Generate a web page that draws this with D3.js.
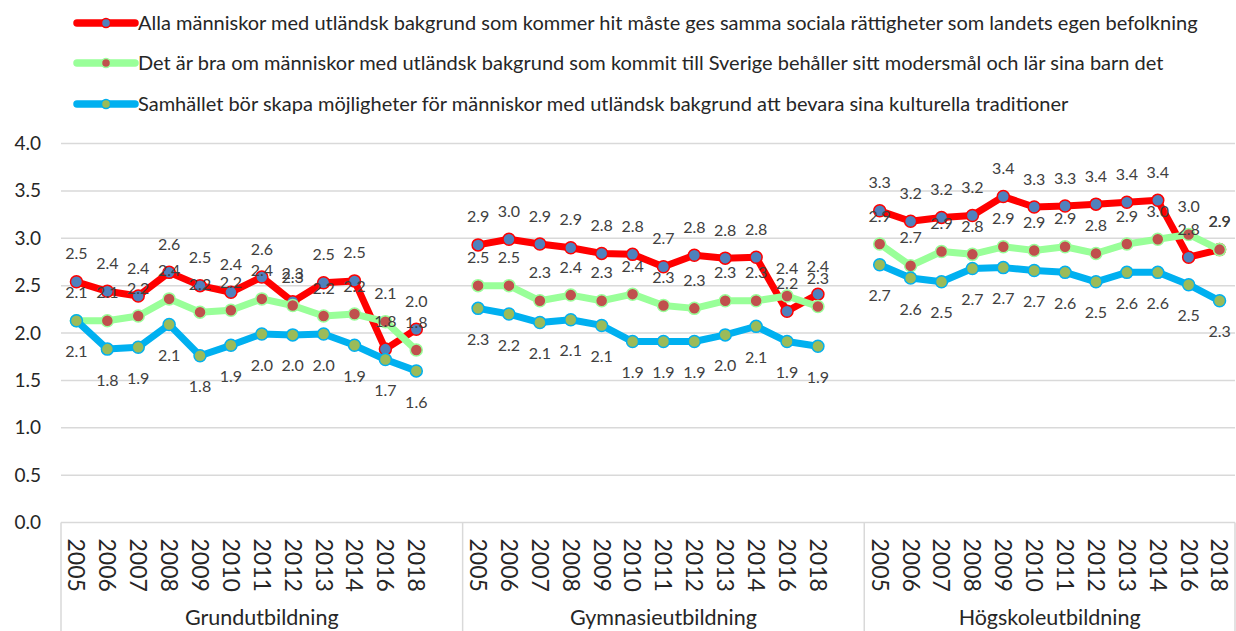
<!doctype html>
<html>
<head>
<meta charset="utf-8">
<script src="https://cdn.jsdelivr.net/npm/d3@7"></script>
<style>
  body { margin: 0; background: #fff; }
  svg text { font-family: Lato, "Open Sans", sans-serif; }
</style>
</head>
<body>
<svg id="chart" width="1236" height="631"></svg>
<script>
  // categories
  var groups = ['Grundutbildning', 'Gymnasieutbildning', 'Högskoleutbildning'];
  var years = ['2005', '2006', '2007', '2008', '2009', '2010', '2011', '2012', '2013', '2014', '2016', '2018'];
  var yTicks = [0, 0.5, 1, 1.5, 2, 2.5, 3, 3.5, 4];

  var seriesNames = [
    'Alla människor med utländsk bakgrund som kommer hit måste ges samma sociala rättigheter som landets egen befolkning',
    'Det är bra om människor med utländsk bakgrund som kommit till Sverige behåller sitt modersmål och lär sina barn det',
    'Samhället bör skapa möjligheter för människor med utländsk bakgrund att bevara sina kulturella traditioner'
  ];

  // values, one per group+year (Grund, Gymnasie, Högskole)
  var rightsValues = [
    2.54, 2.44, 2.39, 2.64, 2.50, 2.43, 2.59, 2.33, 2.53, 2.55, 1.83, 2.04,
    2.93, 2.99, 2.94, 2.90, 2.84, 2.83, 2.70, 2.82, 2.79, 2.80, 2.23, 2.41,
    3.29, 3.18, 3.22, 3.24, 3.44, 3.33, 3.34, 3.36, 3.38, 3.40, 2.80, 2.88
  ];
  var languageValues = [
    2.13, 2.13, 2.18, 2.36, 2.22, 2.24, 2.36, 2.29, 2.18, 2.20, 2.12, 1.82,
    2.50, 2.50, 2.34, 2.40, 2.34, 2.41, 2.29, 2.26, 2.34, 2.34, 2.39, 2.28,
    2.94, 2.71, 2.86, 2.83, 2.91, 2.87, 2.91, 2.84, 2.94, 2.99, 3.04, 2.88
  ];
  var traditionValues = [
    2.13, 1.83, 1.85, 2.09, 1.76, 1.87, 1.99, 1.98, 1.99, 1.87, 1.72, 1.60,
    2.26, 2.20, 2.11, 2.14, 2.08, 1.91, 1.91, 1.91, 1.98, 2.07, 1.91, 1.86,
    2.72, 2.58, 2.54, 2.68, 2.69, 2.66, 2.64, 2.54, 2.64, 2.64, 2.51, 2.34
  ];

  var styles = [
    { line: '#ff0000', fill: '#4f81bd', labelDy: -28 },
    { line: '#99ff99', fill: '#c0504d', labelDy: -28 },
    { line: '#00b0f0', fill: '#9bbb59', labelDy: 31 }
  ];
  var allValues = [rightsValues, languageValues, traditionValues];

  var svg = d3.select('#chart');
  var plotLeft = 61, plotRight = 1235, plotTop = 143.5, plotBottom = 522.5;

  // slots: each group has its years plus an empty slot after (not after the last)
  var slots = [];
  groups.forEach(function (g, gi) {
    years.forEach(function (y) { slots.push(g + '|' + y); });
    if (gi < groups.length - 1) slots.push(g + '|gap');
  });

  var x = d3.scaleBand().domain(slots).range([plotLeft, plotRight]).padding(0);
  var y = d3.scaleLinear().domain([0, 4]).range([plotBottom, plotTop]);

  // gridlines
  svg.append('g').selectAll('line')
    .data(yTicks)
    .enter().append('line')
    .attr('x1', plotLeft).attr('x2', plotRight)
    .attr('y1', function (d) { return y(d); })
    .attr('y2', function (d) { return y(d); })
    .attr('stroke', '#d9d9d9').attr('stroke-width', 1.5);

  var yAxis = d3.axisLeft(y).tickValues(yTicks).tickFormat(d3.format('.1f')).tickSize(0).tickPadding(20);
  var ya = svg.append('g').attr('transform', 'translate(' + plotLeft + ',0)').call(yAxis);
  ya.select('.domain').remove();
  ya.selectAll('text').attr('font-size', 19).attr('fill', '#262626').style('font-family', 'Lato, sans-serif');

  // category axis: group separators
  var sepX = [plotLeft];
  groups.forEach(function (g, gi) {
    if (gi < groups.length - 1) sepX.push(x(g + '|gap') + x.bandwidth());
  });
  sepX.push(plotRight);
  svg.append('g').selectAll('line')
    .data(sepX)
    .enter().append('line')
    .attr('x1', function (d) { return d; }).attr('x2', function (d) { return d; })
    .attr('y1', plotBottom).attr('y2', 631)
    .attr('stroke', '#d9d9d9').attr('stroke-width', 1.5);

  // year labels
  var yearLabels = [];
  groups.forEach(function (g) { years.forEach(function (yr) { yearLabels.push({ g: g, y: yr }); }); });
  svg.append('g').selectAll('text')
    .data(yearLabels)
    .enter().append('text')
    .attr('transform', function (d) {
      return 'translate(' + (x(d.g + '|' + d.y) + x.bandwidth() / 2) + ',' + (plotBottom + 16) + ') rotate(90)';
    })
    .attr('dy', '0.35em')
    .attr('font-size', 23)
    .attr('fill', '#262626')
    .text(function (d) { return d.y; });

  // group labels
  svg.append('g').selectAll('text')
    .data(groups)
    .enter().append('text')
    .attr('x', function (g, gi) {
      var a = x(g + '|2005');
      var b = gi < groups.length - 1 ? x(g + '|gap') + x.bandwidth() : plotRight;
      return (a + b) / 2;
    })
    .attr('y', 617)
    .attr('dy', '0.35em')
    .attr('text-anchor', 'middle')
    .attr('font-size', 21.5)
    .attr('fill', '#262626')
    .text(function (d) { return d; });

  // series
  var line = d3.line()
    .x(function (d) { return x(d.key) + x.bandwidth() / 2; })
    .y(function (d) { return y(d.v); });

  function points(values) {
    var out = [];
    groups.forEach(function (g, gi) {
      years.forEach(function (yr, yi) {
        out.push({ key: g + '|' + yr, g: g, v: values[gi * years.length + yi] });
      });
    });
    return out;
  }

  var seriesPts = allValues.map(points);

  seriesPts.forEach(function (pts, si) {
    var st = styles[si];
    var sg = svg.append('g');
    groups.forEach(function (g) {
      sg.append('path')
        .datum(pts.filter(function (p) { return p.g === g; }))
        .attr('d', line)
        .attr('fill', 'none')
        .attr('stroke', st.line)
        .attr('stroke-width', 7)
        .attr('stroke-linejoin', 'round');
    });
    sg.selectAll('circle')
      .data(pts)
      .enter().append('circle')
      .attr('cx', function (d) { return x(d.key) + x.bandwidth() / 2; })
      .attr('cy', function (d) { return y(d.v); })
      .attr('r', 6)
      .attr('fill', st.fill)
      .attr('stroke', st.line)
      .attr('stroke-width', 1.5);
  });

  // data labels on top
  seriesPts.forEach(function (pts, si) {
    var st = styles[si];
    svg.append('g').selectAll('text')
      .data(pts)
      .enter().append('text')
      .attr('x', function (d) { return x(d.key) + x.bandwidth() / 2; })
      .attr('y', function (d) { return y(d.v) + st.labelDy; })
      .attr('dy', '0.35em')
      .attr('text-anchor', 'middle')
      .attr('font-size', 16)
      .attr('fill', '#404040')
      .text(function (d) { return d3.format('.1f')(d.v); });
  });

  // legend
  var legend = svg.append('g').selectAll('g')
    .data(seriesNames)
    .enter().append('g')
    .attr('transform', function (d, i) { return 'translate(77,' + [23, 63, 104][i] + ')'; });
  legend.append('line')
    .attr('x1', 0).attr('x2', 58).attr('y1', 0).attr('y2', 0)
    .attr('stroke', function (d, i) { return styles[i].line; })
    .attr('stroke-width', 7.5)
    .attr('stroke-linecap', 'round');
  legend.append('circle')
    .attr('cx', 29).attr('cy', 0).attr('r', 4.5)
    .attr('fill', function (d, i) { return styles[i].fill; })
    .attr('stroke', function (d, i) { return styles[i].line; })
    .attr('stroke-width', 1.5);
  legend.append('text')
    .attr('x', 61).attr('y', 0).attr('dy', '0.35em')
    .attr('font-size', 20)
    .attr('fill', '#262626')
    .text(function (d) { return d; });
</script>
</body>
</html>
